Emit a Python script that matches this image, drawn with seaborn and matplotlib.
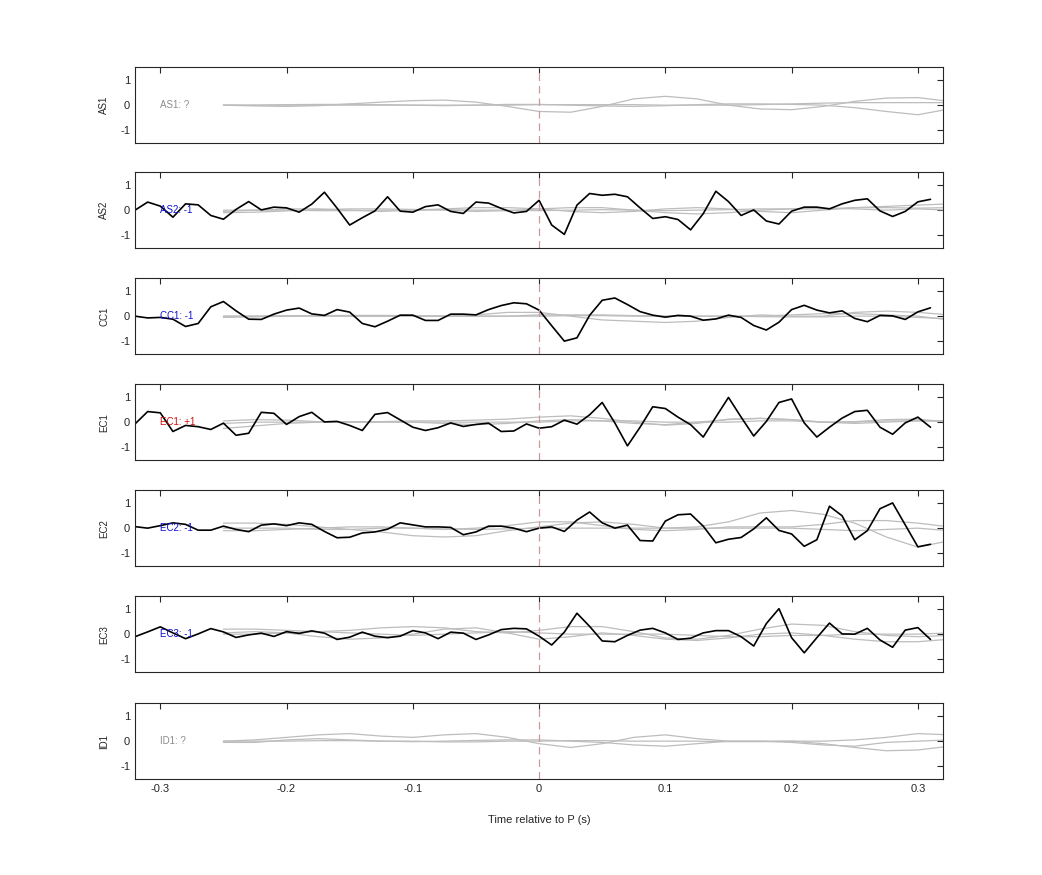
import numpy as np
import pandas as pd
import matplotlib
matplotlib.use("Agg")
import matplotlib.pyplot as plt
import seaborn as sns

sns.set_style("white")
plt.rcParams['font.family'] = ['Liberation Sans', 'DejaVu Sans']
plt.rcParams['axes.unicode_minus'] = False

# station names, polarity labels and label colours
stations = ["AS1", "AS2", "CC1", "EC1", "EC2", "EC3", "ID1"]
pol_labels = ["AS1: ?", "AS2: -1", "CC1: -1", "EC1: +1", "EC2: -1", "EC3: -1", "ID1: ?"]
label_colors = ["#8c8c8c", "#1010d0", "#1010d0", "#d01010", "#1010d0", "#1010d0", "#8c8c8c"]

# observed traces, sampled every 0.01 s from -0.32 to 0.31 s
t_obs = np.round(np.arange(-0.32, 0.315, 0.01), 2)
as2 = [0.0, 0.32, 0.16, -0.28, 0.25, 0.21, -0.21, -0.36, 0.03, 0.34, 0.01, 0.12, 0.09, -0.08, 0.24, 0.71,
       0.08, -0.59, -0.30, -0.03, 0.53, -0.04, -0.08, 0.14, 0.21, -0.05, -0.13, 0.32, 0.28, 0.07, -0.11, -0.05,
       0.39, -0.59, -0.96, 0.20, 0.66, 0.59, 0.63, 0.53, 0.09, -0.33, -0.26, -0.37, -0.78, -0.14, 0.75, 0.34,
       -0.21, 0.01, -0.43, -0.55, -0.04, 0.12, 0.12, 0.05, 0.25, 0.39, 0.45, -0.03, -0.25, -0.05, 0.33, 0.43]
cc1 = [0.0, -0.07, -0.05, -0.12, -0.41, -0.29, 0.37, 0.58, 0.21, -0.12, -0.13, 0.08, 0.24, 0.32, 0.09, 0.03,
       0.26, 0.16, -0.29, -0.42, -0.20, 0.04, 0.04, -0.17, -0.17, 0.08, 0.08, 0.05, 0.26, 0.42, 0.53, 0.49,
       0.24, -0.38, -0.99, -0.86, 0.03, 0.63, 0.72, 0.46, 0.18, 0.04, -0.04, 0.03, 0.0, -0.16, -0.11, 0.04,
       -0.05, -0.37, -0.55, -0.24, 0.26, 0.43, 0.24, 0.13, 0.21, -0.09, -0.22, 0.03, 0.01, -0.13, 0.17, 0.33]
ec1 = [-0.07, 0.42, 0.37, -0.37, -0.13, -0.18, -0.29, -0.04, -0.52, -0.44, 0.39, 0.35, -0.09, 0.22, 0.39, 0.01,
       0.03, -0.13, -0.33, 0.31, 0.38, 0.09, -0.20, -0.33, -0.22, -0.03, -0.17, -0.09, -0.04, -0.37, -0.35, -0.07,
       -0.24, -0.18, 0.08, -0.08, 0.29, 0.78, -0.03, -0.94, -0.20, 0.61, 0.54, 0.20, -0.10, -0.59, 0.20, 0.98,
       0.20, -0.55, 0.03, 0.78, 0.92, -0.03, -0.59, -0.20, 0.16, 0.42, 0.47, -0.20, -0.48, -0.03, 0.20, -0.20]
ec2 = [0.06, 0.0, 0.10, 0.21, 0.15, -0.08, -0.08, 0.08, -0.05, -0.14, 0.12, 0.17, 0.10, 0.21, 0.15, -0.13,
       -0.38, -0.36, -0.19, -0.15, -0.04, 0.21, 0.13, 0.05, 0.05, 0.03, -0.26, -0.15, 0.08, 0.08, 0.0, -0.14,
       0.0, 0.05, -0.13, 0.32, 0.64, 0.21, 0.0, 0.12, -0.49, -0.51, 0.28, 0.53, 0.56, 0.08, -0.58, -0.44,
       -0.37, -0.03, 0.41, -0.09, -0.23, -0.72, -0.46, 0.87, 0.49, -0.46, -0.10, 0.77, 1.0, 0.13, -0.74, -0.64]
ec3 = [-0.10, 0.09, 0.29, 0.05, -0.18, 0.01, 0.22, 0.09, -0.13, -0.03, 0.04, -0.09, 0.10, 0.03, 0.13, 0.04,
       -0.21, -0.12, 0.08, -0.08, -0.14, -0.08, 0.14, 0.05, -0.18, 0.08, 0.04, -0.21, -0.03, 0.18, 0.23, 0.21,
       -0.08, -0.43, 0.08, 0.83, 0.31, -0.27, -0.30, -0.05, 0.16, 0.23, 0.05, -0.21, -0.16, 0.05, 0.14, 0.14,
       -0.10, -0.47, 0.42, 1.01, -0.14, -0.74, -0.14, 0.44, 0.01, 0.0, 0.23, -0.23, -0.52, 0.16, 0.26, -0.21]
observed = [None, as2, cc1, ec1, ec2, ec3, None]

# synthetic (grey) traces, sampled every 0.025 s from -0.25 to 0.35 s
t_syn = np.round(np.arange(-0.25, 0.36, 0.025), 3)
syn = {
    "AS1": [[0.0, -0.03, -0.05, -0.02, 0.05, 0.12, 0.18, 0.2, 0.12, -0.05, -0.25, -0.28, -0.05, 0.25, 0.35, 0.25, 0.0, -0.15, -0.18, -0.05, 0.15, 0.28, 0.3, 0.15, 0.5],
            [0.0, 0.0, 0.02, 0.03, 0.03, 0.02, 0.0, -0.02, 0.0, 0.03, 0.03, 0.0, -0.03, -0.05, -0.02, 0.02, 0.05, 0.05, 0.03, 0.0, -0.1, -0.25, -0.38, -0.15, 0.1],
            [0.0, 0.0, 0.0, 0.0, 0.0, 0.0, 0.0, 0.0, 0.0, 0.0, 0.02, 0.02, 0.02, 0.02, 0.0, 0.0, 0.0, 0.02, 0.05, 0.08, 0.1, 0.1, 0.1, 0.1, 0.1]],
    "AS2": [[-0.05, 0.0, 0.05, 0.05, 0.0, -0.05, 0.0, 0.05, 0.1, 0.1, 0.05, -0.05, -0.1, -0.05, 0.05, 0.1, 0.05, -0.05, -0.1, 0.0, 0.1, 0.15, 0.2, 0.25, 0.3],
            [-0.1, -0.08, -0.03, 0.02, 0.05, 0.05, 0.03, 0.0, -0.05, -0.02, 0.05, 0.1, 0.1, 0.0, -0.1, -0.15, -0.1, 0.0, 0.05, 0.08, 0.05, 0.0, 0.05, 0.0, -0.2],
            [0.0, 0.0, 0.0, -0.02, -0.02, 0.0, 0.0, 0.02, 0.0, 0.0, -0.02, 0.0, 0.02, 0.0, -0.02, 0.0, 0.02, 0.05, 0.05, 0.05, 0.1, 0.1, 0.08, 0.1, 0.1]],
    "CC1": [[0.0, 0.0, 0.02, 0.02, 0.0, 0.0, 0.0, 0.0, 0.05, 0.15, 0.15, 0.0, -0.15, -0.2, -0.25, -0.2, -0.05, 0.05, 0.0, 0.0, 0.15, 0.2, 0.15, 0.05, 0.55],
            [-0.05, -0.03, 0.0, 0.02, 0.03, 0.03, 0.02, 0.0, 0.0, 0.0, 0.05, 0.05, 0.05, 0.02, 0.0, 0.0, 0.0, 0.0, 0.05, 0.1, 0.1, 0.05, 0.0, -0.15, -0.3],
            [0.0, 0.0, 0.0, 0.0, 0.0, 0.0, 0.0, 0.0, 0.0, 0.0, 0.0, 0.02, 0.02, 0.0, 0.0, 0.0, 0.0, -0.02, -0.03, -0.03, 0.0, 0.0, -0.05, -0.1, -0.2]],
    "EC1": [[0.05, 0.1, 0.08, 0.02, 0.0, 0.02, 0.05, 0.05, 0.08, 0.12, 0.2, 0.25, 0.15, 0.0, -0.12, -0.05, 0.12, 0.15, 0.1, 0.0, 0.02, 0.1, 0.12, 0.0, -0.3],
            [-0.25, -0.15, -0.05, 0.0, 0.02, 0.02, 0.0, -0.05, -0.1, -0.05, 0.05, 0.1, 0.05, -0.05, -0.1, 0.0, 0.1, 0.15, 0.1, 0.0, -0.05, 0.0, 0.05, 0.05, -0.05],
            [-0.05, 0.0, 0.0, 0.0, 0.0, 0.0, 0.0, 0.0, 0.0, 0.0, 0.0, 0.05, 0.05, 0.05, 0.0, 0.0, 0.0, 0.05, 0.05, 0.0, 0.0, 0.05, 0.05, 0.05, 0.05]],
    "EC2": [[0.2, 0.2, 0.15, 0.05, -0.05, -0.15, -0.3, -0.35, -0.3, -0.1, 0.05, 0.2, 0.25, 0.15, 0.0, 0.05, 0.25, 0.6, 0.7, 0.55, 0.2, -0.35, -0.75, -0.5, 0.2],
            [-0.1, -0.1, -0.05, 0.0, 0.05, 0.05, 0.0, -0.05, 0.0, 0.1, 0.25, 0.25, 0.1, -0.05, -0.1, -0.05, 0.05, 0.05, 0.05, 0.15, 0.3, 0.3, 0.2, 0.05, -0.05],
            [0.0, 0.0, 0.0, -0.05, -0.05, 0.0, 0.0, -0.03, -0.05, -0.03, 0.0, 0.0, 0.0, 0.0, 0.0, 0.0, 0.0, 0.0, 0.0, -0.05, -0.1, -0.05, 0.0, -0.1, -0.15]],
    "EC3": [[0.2, 0.2, 0.15, 0.1, 0.15, 0.25, 0.3, 0.25, 0.1, 0.05, 0.15, 0.3, 0.3, 0.1, -0.15, -0.2, -0.05, 0.2, 0.4, 0.35, 0.1, -0.05, -0.1, -0.05, -0.1],
            [0.05, 0.1, 0.05, -0.1, -0.2, -0.15, 0.0, 0.2, 0.25, 0.05, -0.2, -0.1, 0.05, -0.05, -0.2, -0.25, -0.15, 0.0, 0.05, -0.05, -0.2, -0.3, -0.3, -0.2, -0.2],
            [0.0, 0.0, 0.05, 0.1, 0.05, 0.0, -0.05, 0.0, 0.05, 0.1, 0.05, 0.0, 0.0, 0.0, 0.0, -0.05, -0.1, -0.1, -0.05, -0.05, 0.0, 0.0, 0.0, 0.05, 0.0]],
    "ID1": [[0.0, 0.05, 0.15, 0.25, 0.3, 0.2, 0.15, 0.25, 0.3, 0.15, -0.1, -0.25, -0.1, 0.15, 0.25, 0.1, 0.0, 0.0, -0.05, -0.15, -0.2, -0.05, 0.0, 0.05, 0.25],
            [-0.05, -0.05, 0.05, 0.1, 0.05, 0.0, -0.02, 0.0, 0.03, 0.05, 0.05, 0.0, -0.05, -0.15, -0.2, -0.1, 0.0, 0.0, 0.0, -0.1, -0.25, -0.38, -0.35, -0.2, -0.1],
            [0.0, 0.0, 0.0, 0.02, 0.02, 0.0, 0.0, -0.03, -0.03, 0.0, 0.0, 0.02, 0.02, 0.0, 0.0, 0.0, -0.02, -0.02, 0.0, 0.0, 0.05, 0.15, 0.3, 0.25, 0.05]],
}

fig = plt.figure(figsize=(10.42, 8.75), dpi=100)
left, width, height = 0.1296, 0.7755, 0.0865
tops = [67, 172, 278, 384, 490, 596, 703]

for i, st in enumerate(stations):
    bottom = 1 - (tops[i] + 76) / 875
    ax = fig.add_axes([left, bottom, width, height])
    for curve in syn[st]:
        sns.lineplot(x=t_syn, y=curve, ax=ax, color="#bdbdbd", lw=0.9, estimator=None, sort=False)
    if observed[i] is not None:
        df = pd.DataFrame({"t": t_obs, "amp": observed[i]})
        sns.lineplot(data=df, x="t", y="amp", ax=ax, color="black", lw=1.2, estimator=None, sort=False)
    ax.axvline(0, color="#c89a9a", ls=(0, (6, 4)), lw=0.9)
    ax.text(-0.3, 0, pol_labels[i], color=label_colors[i], fontsize=7, va="center", ha="left")
    ax.set_xlim(-0.32, 0.32)
    ax.set_ylim(-1.5, 1.5)
    ax.set_yticks([-1, 0, 1])
    ax.set_xticks([-0.3, -0.2, -0.1, 0, 0.1, 0.2, 0.3])
    ax.set_ylabel(st, fontsize=7, labelpad=8)
    ax.set_xlabel("")
    ax.tick_params(direction="in", top=True, right=True, labelsize=8, length=4, width=0.8, colors="#262626")
    if i < len(stations) - 1:
        ax.set_xticklabels([])
    else:
        ax.set_xticklabels(["-0.3", "-0.2", "-0.1", "0", "0.1", "0.2", "0.3"])
        ax.set_xlabel("Time relative to P (s)", fontsize=8, labelpad=15)
    for sp in ax.spines.values():
        sp.set_color("#262626")
        sp.set_linewidth(0.8)

fig.savefig("out.png", dpi=100)
